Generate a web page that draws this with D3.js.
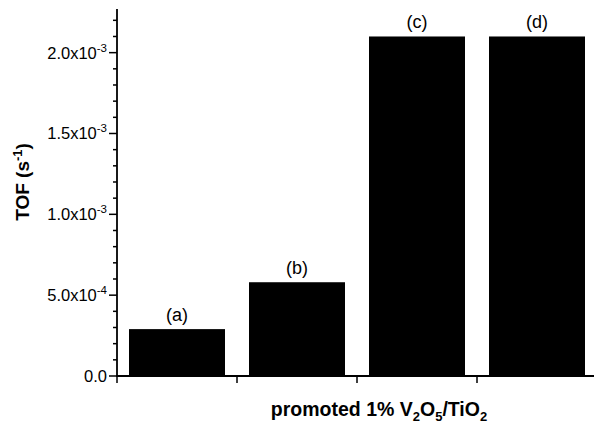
<!DOCTYPE html>
<html>
<head>
<meta charset="utf-8">
<script src="https://cdn.jsdelivr.net/npm/d3@7"></script>
<style>
  html, body { margin: 0; padding: 0; background: #fff; }
  svg { display: block; font-family: "Liberation Sans", Arial, sans-serif; }
</style>
</head>
<body>
<svg id="chart" width="594" height="426"></svg>
<script>
// Catalysts and their turnover frequencies (s^-1)
const categories = ["(a)", "(b)", "(c)", "(d)"];
const tofValues = [2.9e-4, 5.8e-4, 2.1e-3, 2.1e-3];

// Y-axis major ticks: value, mantissa text, exponent text
const yTickValues = [0, 5e-4, 1e-3, 1.5e-3, 2e-3];
const yTickMantissa = ["0.0", "5.0x10", "1.0x10", "1.5x10", "2.0x10"];
const yTickExponent = ["", "-4", "-3", "-3", "-3"];
const yMinorStep = 1e-4;
const yMax = 2.27e-3;

const svg = d3.select("#chart");
const plotLeft = 117, plotRight = 597, plotTop = 9, plotBottom = 376;

const x = d3.scaleBand()
  .domain(categories)
  .range([plotLeft, plotRight])
  .paddingInner(0.2)
  .paddingOuter(0.1);

const y = d3.scaleLinear().domain([0, yMax]).range([plotBottom, plotTop]);

// Bars
svg.append("g").selectAll("rect")
  .data(categories)
  .join("rect")
  .attr("x", d => x(d))
  .attr("y", (d, i) => y(tofValues[i]))
  .attr("width", x.bandwidth())
  .attr("height", (d, i) => y(0) - y(tofValues[i]))
  .attr("fill", "#000");

// Bar labels
svg.append("g").selectAll("text")
  .data(categories)
  .join("text")
  .attr("x", d => x(d) + x.bandwidth() / 2)
  .attr("y", (d, i) => y(tofValues[i]) - 8)
  .attr("text-anchor", "middle")
  .attr("font-size", 18)
  .text(d => d);

// Y axis
const yAxis = svg.append("g");
yAxis.append("line")
  .attr("x1", plotLeft).attr("x2", plotLeft)
  .attr("y1", y(0) + 1).attr("y2", plotTop)
  .attr("stroke", "#000").attr("stroke-width", 1.8);

const minorVals = d3.range(0, yMax, yMinorStep)
  .filter(v => !yTickValues.some(t => Math.abs(t - v) < 1e-9));
yAxis.selectAll("line.minor")
  .data(minorVals)
  .join("line")
  .attr("class", "minor")
  .attr("x1", plotLeft - 4).attr("x2", plotLeft)
  .attr("y1", d => y(d)).attr("y2", d => y(d))
  .attr("stroke", "#000").attr("stroke-width", 1.5);

yAxis.selectAll("line.major")
  .data(yTickValues)
  .join("line")
  .attr("class", "major")
  .attr("x1", plotLeft - 8).attr("x2", plotLeft)
  .attr("y1", d => y(d)).attr("y2", d => y(d))
  .attr("stroke", "#000").attr("stroke-width", 1.5);

const labels = yAxis.selectAll("text.tick")
  .data(yTickValues)
  .join("text")
  .attr("class", "tick")
  .attr("x", plotLeft - 10)
  .attr("y", d => y(d) + 6)
  .attr("text-anchor", "end")
  .attr("font-size", 16.5);
labels.each(function(d, i) {
  const t = d3.select(this);
  t.append("tspan").text(yTickMantissa[i]);
  if (yTickExponent[i]) {
    t.append("tspan")
      .attr("dy", -7)
      .attr("font-size", 11.5)
      .text(yTickExponent[i]);
  }
});

// X axis
const xAxis = svg.append("g");
xAxis.append("line")
  .attr("x1", plotLeft - 1).attr("x2", plotRight)
  .attr("y1", plotBottom).attr("y2", plotBottom)
  .attr("stroke", "#000").attr("stroke-width", 1.8);

const edges = categories.map(c => x(c) - x.step() * x.paddingInner() / 2);
xAxis.selectAll("line.tick")
  .data(edges)
  .join("line")
  .attr("class", "tick")
  .attr("x1", d => d).attr("x2", d => d)
  .attr("y1", plotBottom).attr("y2", plotBottom + 7)
  .attr("stroke", "#000").attr("stroke-width", 1.5);

// Axis titles
const yTitle = svg.append("text")
  .attr("transform", "translate(29,182) rotate(-90)")
  .attr("text-anchor", "middle")
  .attr("font-size", 19)
  .attr("font-weight", "bold");
yTitle.append("tspan").text("TOF (s");
yTitle.append("tspan").attr("dy", -7).attr("font-size", 13).text("-1");
yTitle.append("tspan").attr("dy", 7).text(")");

const xTitle = svg.append("text")
  .attr("x", 379)
  .attr("y", 416)
  .attr("text-anchor", "middle")
  .attr("font-size", 19.5)
  .attr("font-weight", "bold");
xTitle.append("tspan").text("promoted 1% V");
xTitle.append("tspan").attr("dy", 5).attr("font-size", 13).text("2");
xTitle.append("tspan").attr("dy", -5).text("O");
xTitle.append("tspan").attr("dy", 5).attr("font-size", 13).text("5");
xTitle.append("tspan").attr("dy", -5).text("/TiO");
xTitle.append("tspan").attr("dy", 5).attr("font-size", 13).text("2");
</script>
</body>
</html>
